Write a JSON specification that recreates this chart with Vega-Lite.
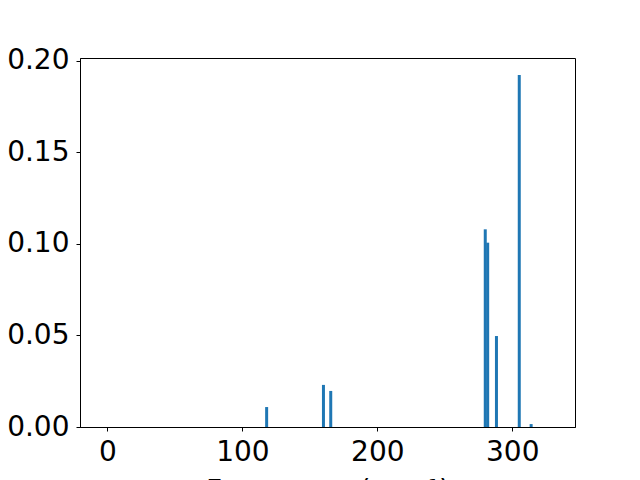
{
  "$schema": "https://vega.github.io/schema/vega-lite/v6.json",
  "width": 495,
  "height": 369,
  "autosize": {"type": "none"},
  "padding": {"left": 80, "top": 58, "right": 65, "bottom": 53},
  "background": "white",
  "config": {
    "view": {"stroke": "black", "strokeWidth": 1},
    "font": "DejaVu Sans",
    "axis": {
      "grid": false,
      "domainColor": "black",
      "tickColor": "black",
      "labelColor": "black",
      "titleColor": "black",
      "labelFont": "DejaVu Sans",
      "titleFont": "DejaVu Sans",
      "labelFontSize": 28,
      "titleFontSize": 28,
      "titleFontWeight": "normal",
      "tickSize": 4,
      "labelPadding": 7
    }
  },
  "data": {
    "values": [
      {"freq": 118, "intensity": 0.0109},
      {"freq": 160.1, "intensity": 0.023},
      {"freq": 165.5, "intensity": 0.0197},
      {"freq": 280, "intensity": 0.108},
      {"freq": 281.8, "intensity": 0.1007},
      {"freq": 288.3, "intensity": 0.0497},
      {"freq": 305.2, "intensity": 0.1923},
      {"freq": 314, "intensity": 0.0016}
    ]
  },
  "mark": {"type": "bar", "size": 3, "color": "#1f77b4", "orient": "vertical"},
  "encoding": {
    "x": {
      "field": "freq",
      "type": "quantitative",
      "scale": {"domain": [-16.6, 342.8], "nice": false, "zero": false},
      "axis": {"values": [0, 100, 200, 300], "title": "Frequency (cm⁻¹)", "titlePadding": 11}
    },
    "y": {
      "field": "intensity",
      "type": "quantitative",
      "scale": {"domain": [0, 0.2016], "nice": false},
      "axis": {"values": [0, 0.05, 0.1, 0.15, 0.2], "format": ".2f", "title": null}
    }
  }
}
